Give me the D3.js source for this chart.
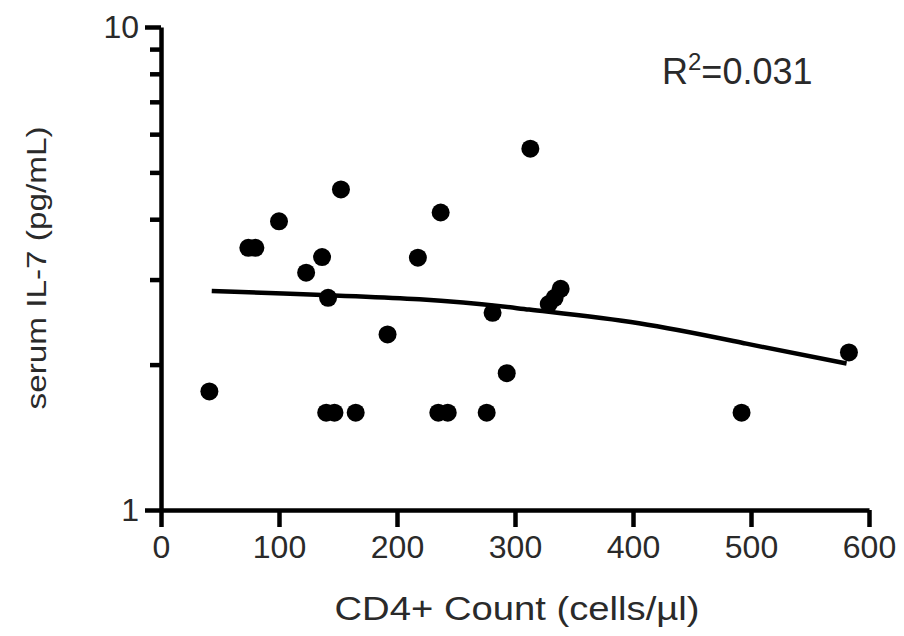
<!DOCTYPE html>
<html>
<head>
<meta charset="utf-8">
<script src="https://cdn.jsdelivr.net/npm/d3@7"></script>
<style>
  body { margin: 0; background: #fff; }
  svg text { font-family: "Liberation Sans", Arial, sans-serif; fill: #2a2a2a; }
</style>
</head>
<body>
<div id="chart"></div>
<script>
// CD4+ count vs serum IL-7
const cd4 = [41, 74, 80, 100, 123, 136.5, 141.6, 140, 147, 152.5, 165, 192, 217.7, 237, 235, 243, 281, 276, 293, 313, 328.6, 333.6, 338.7, 492, 583];
const il7 = [1.76, 3.49, 3.49, 3.96, 3.1, 3.34, 2.75, 1.59, 1.59, 4.61, 1.59, 2.31, 3.33, 4.13, 1.59, 1.59, 2.56, 1.59, 1.92, 5.6, 2.67, 2.75, 2.87, 1.59, 2.12];

// fitted curve
const fitX = [43, 219, 312, 405, 496, 581];
const fitY = [2.84, 2.73, 2.6, 2.436, 2.21, 2.01];

const xTicks = [0, 100, 200, 300, 400, 500, 600];
const yMajor = [1, 10];
const yMinor = [2, 3, 4, 5, 6, 7, 8, 9];
const rSquared = "0.031";

const width = 904, height = 636;

let svg = d3.select("#chart").append("svg")
  .attr("width", width)
  .attr("height", height)

let x = d3.scaleLinear().domain([0, 600]).range([161, 869])
let y = d3.scaleLog().domain([1, 10]).range([510, 27])

const axisW = 4.5

// x axis
let xAxis = svg.append("g")
  .attr("transform", "translate(0," + y(1) + ")")
  .call(d3.axisBottom(x).tickValues(xTicks).tickSize(17).tickSizeOuter(0).tickPadding(8).tickFormat(d3.format("d")))
xAxis.select(".domain").attr("stroke", "#000").attr("stroke-width", axisW)
xAxis.selectAll(".tick line").attr("stroke", "#000").attr("stroke-width", axisW)
xAxis.selectAll(".tick text").attr("font-size", 32).attr("font-family", "Liberation Sans, Arial, sans-serif").attr("fill", "#2a2a2a")

// y axis, major + minor ticks
let yAxis = svg.append("g")
  .attr("transform", "translate(" + x(0) + ",0)")
  .call(d3.axisLeft(y).tickValues(yMajor).tickSize(16).tickSizeOuter(0).tickPadding(6).tickFormat(d3.format("d")))
yAxis.select(".domain").attr("stroke", "#000").attr("stroke-width", axisW)
yAxis.selectAll(".tick line").attr("stroke", "#000").attr("stroke-width", axisW)
yAxis.selectAll(".tick text").attr("font-size", 32).attr("font-family", "Liberation Sans, Arial, sans-serif").attr("fill", "#2a2a2a")

svg.append("g")
  .attr("transform", "translate(" + x(0) + ",0)")
  .call(d3.axisLeft(y).tickValues(yMinor).tickSize(11).tickFormat(""))
  .call(g => g.select(".domain").remove())
  .selectAll(".tick line").attr("stroke", "#000").attr("stroke-width", axisW)

// points
svg.append("g")
  .selectAll("circle")
  .data(cd4.map((d, i) => ({x: d, y: il7[i]})))
  .enter().append("circle")
  .attr("cx", d => x(d.x))
  .attr("cy", d => y(d.y))
  .attr("r", 9)
  .attr("fill", "#000")

// fit curve
svg.append("path")
  .datum(fitX.map((d, i) => [d, fitY[i]]))
  .attr("fill", "none")
  .attr("stroke", "#000")
  .attr("stroke-width", axisW)
  .attr("d", d3.line().x(d => x(d[0])).y(d => y(d[1])).curve(d3.curveNatural))

// titles
svg.append("text")
  .attr("x", 517)
  .attr("y", 620)
  .attr("text-anchor", "middle")
  .attr("font-size", 33)
  .attr("textLength", 365)
  .attr("lengthAdjust", "spacingAndGlyphs")
  .text("CD4+ Count (cells/µl)")

svg.append("text")
  .attr("transform", "translate(46,268) rotate(-90)")
  .attr("text-anchor", "middle")
  .attr("font-size", 27)
  .attr("textLength", 283)
  .attr("lengthAdjust", "spacingAndGlyphs")
  .text("serum IL-7 (pg/mL)")

let r2 = svg.append("text")
  .attr("x", 662)
  .attr("y", 84)
  .attr("font-size", 36)
r2.append("tspan").text("R")
r2.append("tspan").attr("font-size", 24).attr("dy", -14).text("2")
r2.append("tspan").attr("dy", 14).text("=" + rSquared)
</script>
</body>
</html>
